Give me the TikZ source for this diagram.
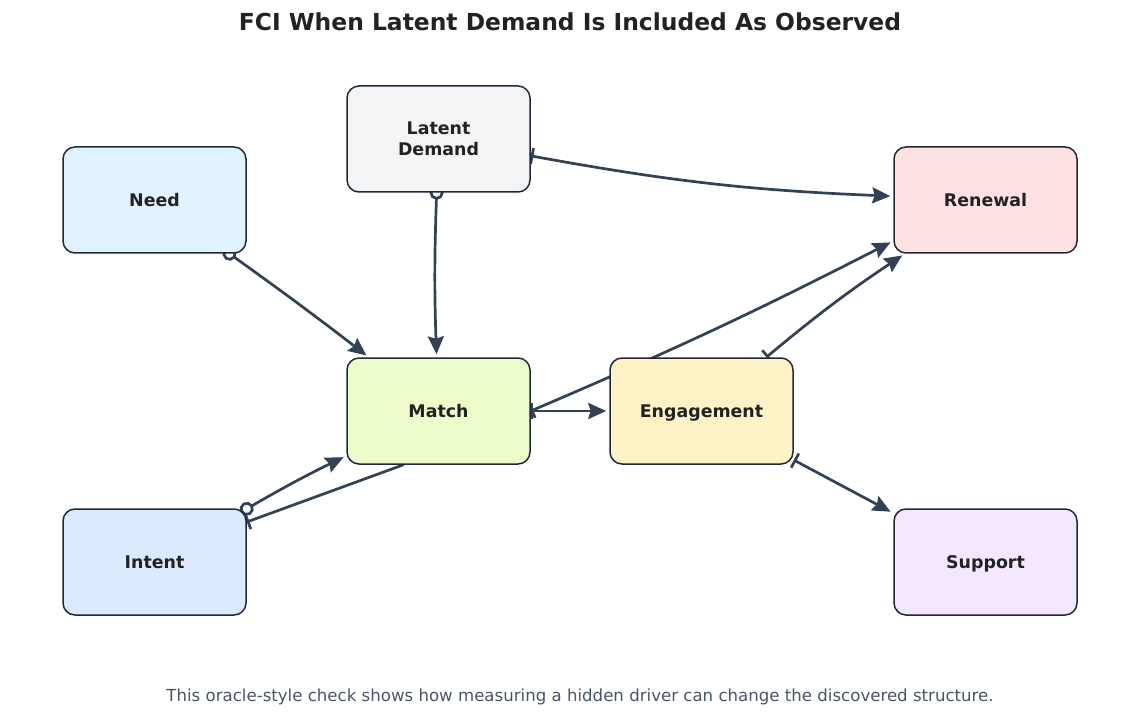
\documentclass[tikz,border=0pt]{standalone}
\usepackage{fontspec}
\setmainfont{DejaVu Sans}
\usetikzlibrary{arrows.meta,backgrounds}

\definecolor{edgecol}{HTML}{334155}
\definecolor{boxline}{HTML}{1F2937}
\definecolor{titlecol}{HTML}{222222}
\definecolor{notecol}{HTML}{475569}
\definecolor{needfill}{HTML}{E0F2FE}
\definecolor{latfill}{HTML}{F3F4F6}
\definecolor{renfill}{HTML}{FEE2E2}
\definecolor{matchfill}{HTML}{ECFCCB}
\definecolor{engfill}{HTML}{FEF3C7}
\definecolor{intfill}{HTML}{DBEAFE}
\definecolor{supfill}{HTML}{F3E8FF}

\tikzset{
  var/.style={draw=boxline, line width=1.5pt, rounded corners=12pt,
    minimum width=183pt, minimum height=106pt, inner sep=0pt, align=center,
    text=titlecol, font=\bfseries\fontsize{17.4}{21}\selectfont},
  flat/.style={text depth=0pt},
  link/.style={draw=edgecol, line width=2.7pt, shorten >=3pt,
    -{Stealth[length=18pt,width=16pt,inset=2.5pt]}},
  odot/.style={{Circle[open,fill=white,length=14pt,width=14pt]}-{Stealth[length=18pt,width=16pt,inset=2.5pt]},
    shorten <=-7pt},
  tailbar/.style={{Bar[width=16pt]}-{Stealth[length=18pt,width=16pt,inset=2.5pt]}}
}

\begin{document}
\begin{tikzpicture}[x=1pt,y=-1pt]
    \useasboundingbox (0,0) rectangle (1140,719);

    % Title and note
    \node[text=titlecol, font=\bfseries\fontsize{23.4}{28}\selectfont] (title) at (570,22)
        {FCI When Latent Demand Is Included As Observed};
    \node[text=notecol, font=\fontsize{16.6}{20}\selectfont] (note) at (580,697)
        {This oracle-style check shows how measuring a hidden driver can change the discovered structure.};

    % Variables
    \node[var, fill=needfill]  (need)   at (154.5,200) {Need};
    \node[var, fill=latfill]   (lat)    at (438.5,139) {Latent\\Demand};
    \node[var, fill=renfill]   (ren)    at (985.5,200) {Renewal};
    \node[var, fill=matchfill] (match)  at (438.5,411) {Match};
    \node[var, flat, fill=engfill] (eng) at (701.5,411) {Engagement};
    \node[var, fill=intfill]   (intent) at (154.5,562) {Intent};
    \node[var, flat, fill=supfill] (sup) at (985.5,562) {Support};

    % Edges go behind the boxes
    \begin{scope}[on background layer]
        \draw[link, tailbar] (lat) to[bend right=4] (ren);
        \draw[link, odot] (lat) to[bend right=2] (match);
        \draw[link, odot] (need) to[bend left=1] (match);
        \draw[link, odot] (intent) to[bend left=2] (match);
        \draw[link, -{Bar[width=16pt]}, shorten >=0pt] ([xshift=-35pt]match.south) -- ([yshift=40pt]intent.east);
        \draw[link, tailbar] (match) -- (eng);
        \draw[link, tailbar] (match.east) to[bend right=2] ([yshift=-41pt]ren.west);
        \draw[link, tailbar] (eng) to[bend left=3] (ren);
        \draw[link, tailbar] (eng) -- (sup);
    \end{scope}
\end{tikzpicture}
\end{document}
